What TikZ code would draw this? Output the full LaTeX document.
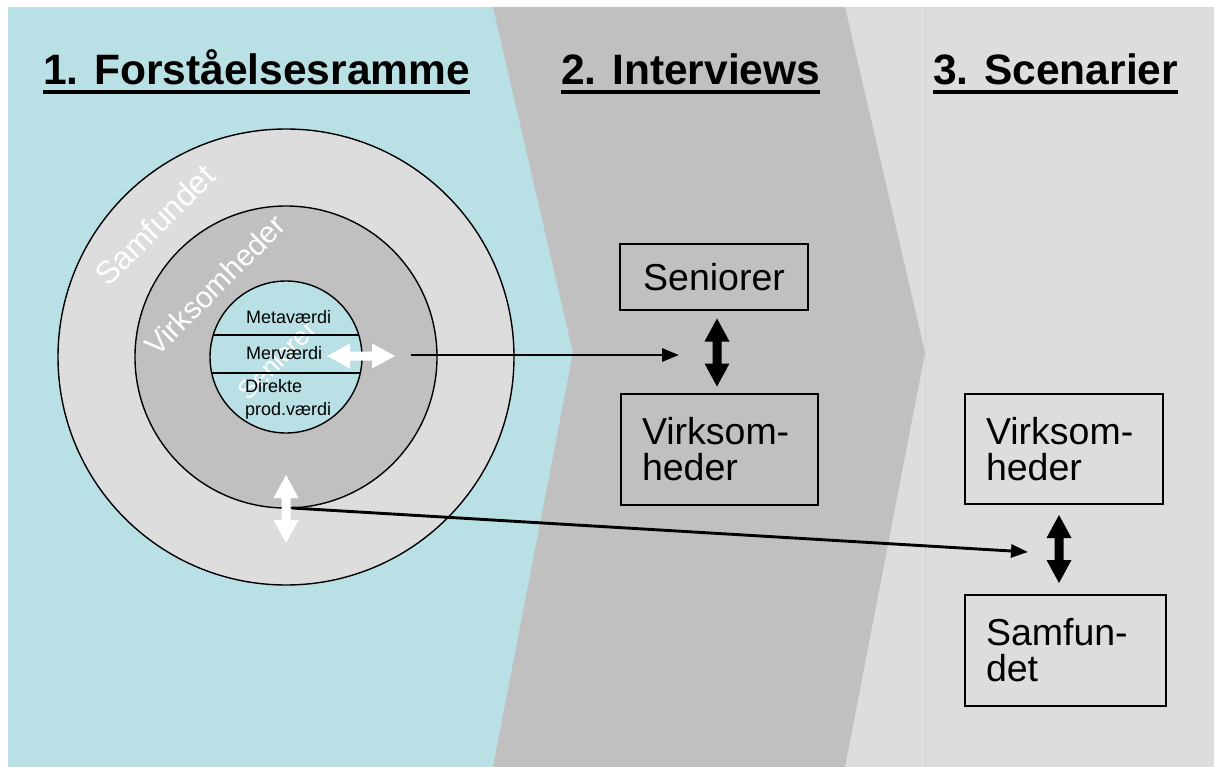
\documentclass[tikz,border=0pt]{standalone}
\usepackage{fontspec}
\setmainfont{Liberation Sans}
\usetikzlibrary{arrows.meta}
\definecolor{cyanbg}{RGB}{185,224,228}
\definecolor{midgray}{RGB}{192,192,192}
\definecolor{lightgraybg}{RGB}{221,221,221}
\definecolor{sepline}{RGB}{210,210,210}
\begin{document}
\begin{tikzpicture}[x=1pt,y=-1pt,
  title/.style={font=\fontsize{42.5}{42.5}\selectfont\bfseries, anchor=base west, inner sep=0pt},
  box/.style={draw=black, line width=1.3pt, font=\fontsize{37.5}{36}\selectfont, inner xsep=21pt, inner ysep=0pt},
  ring/.style={circle, draw=black, line width=1.4pt, inner sep=0pt},
  ringlabel/.style={text=white, rotate=45, inner sep=0pt},
  small/.style={font=\fontsize{18}{22}\selectfont, anchor=base west, inner sep=0pt},
  link/.style={line width=2.9pt, -{Triangle[length=17pt,width=13pt]}},
  dblarr/.pic={\fill[#1] (-34,0) -- (-11,-12.5) -- (-11,-4.5) -- (11,-4.5) -- (11,-12.5) -- (34,0) -- (11,12.5) -- (11,4.5) -- (-11,4.5) -- (-11,12.5) -- cycle;}
]
\useasboundingbox (0,0) rectangle (1214,767);
% backgrounds
\fill[white] (0,0) rectangle (1214,767);
\fill[cyanbg] (8,7) rectangle (600,767);
\fill[lightgraybg] (845,7) rectangle (1214,767);
\fill[midgray] (493,7) -- (845,7) -- (925,353) -- (845,767) -- (493,767) -- (573,353) -- cycle;
\draw[sepline, line width=1pt] (925,7) -- (925,767);

% titles
\node[title] (t1) at (43,85) {1. Forståelsesramme};
\node[title] (t2) at (561,85) {2. Interviews};
\node[title] (t3) at (933,85) {3. Scenarier};
\foreach \t in {t1,t2,t3}
  \draw[line width=3.6pt] ([yshift=-7pt]\t.base west) -- ([yshift=-7pt]\t.base east);

% circles
\node[ring, fill=lightgraybg, minimum size=456pt] (outer) at (286,357) {};
\node[ring, fill=midgray, minimum size=302pt] (middle) at (286,357) {};
\node[ring, fill=cyanbg, minimum size=152pt] (inner) at (286,357) {};

% rotated labels
\node[ringlabel, font=\fontsize{32}{32}\selectfont] (lsamf) at (155,225) {Samfundet};
\node[ringlabel, font=\fontsize{30}{30}\selectfont] (lvirk) at (215,285) {Virksomheder};
\node[ringlabel, font=\fontsize{26}{26}\selectfont] (lsen) at (277,360) {Seniorer};

% chords of inner circle
\draw[line width=1.4pt] (213.3,335) -- (358.7,335);
\draw[line width=1.4pt] (211.7,373) -- (360.3,373);

% inner texts
\node[small] (meta) at (246,323) {Metaværdi};
\node[small] (mer) at (246,359) {Merværdi};
\node[small] (dir1) at (245,392) {Direkte};
\node[small] (dir2) at (245,415) {prod.værdi};

% white double arrows
\pic at (361,356) {dblarr=white};
\pic[rotate=90] at (286,509) {dblarr=white};

% boxes
\node[box, minimum width=188pt, minimum height=66pt, align=center] (sen2) at (714,277) {Seniorer};
\node[box, minimum width=197pt, minimum height=111pt, text width=155pt, align=left] (virk2) at (719.5,449.5) {Virksom-\\heder};
\node[box, minimum width=198pt, minimum height=110pt, text width=156pt, align=left] (virk3) at (1064,449) {Virksom-\\heder};
\node[box, minimum width=201pt, minimum height=111pt, text width=159pt, align=left] (samf3) at (1065.5,650.5) {Samfun-\\det};

% black double arrows
\pic[rotate=90] at (717,352.5) {dblarr=black};
\pic[rotate=90] at (1059,549) {dblarr=black};

% links
\coordinate (l1s) at (411,355);
\coordinate (l1e) at (679,355);
\coordinate (l2s) at (292,508);
\coordinate (l2e) at (1028,552);
\draw[link] (l1s) -- (l1e);
\draw[link] (l2s) -- (l2e);
\end{tikzpicture}
\end{document}
